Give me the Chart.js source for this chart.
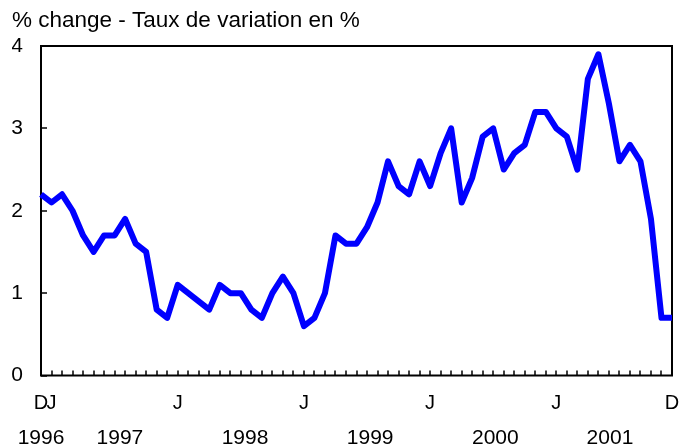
<!DOCTYPE html>
<html>
<head>
<meta charset="utf-8">
<script src="https://cdn.jsdelivr.net/npm/chart.js@4.4.1/dist/chart.umd.min.js"></script>
<style>
  html, body { margin: 0; padding: 0; background: #fff; }
  #wrap { width: 687px; height: 447px; }
</style>
</head>
<body>
<div id="wrap"><canvas id="chartCanvas"></canvas></div>
<script>
// monthly periods, Dec 1996 .. Dec 2001
const months = [];
for (let i = 0; i < 61; i++) {
  const m = (11 + i) % 12;
  const yr = 1996 + Math.floor((11 + i) / 12);
  months.push(yr + "-" + String(m + 1).padStart(2, "0"));
}

const values = [
  2.2, 2.1, 2.2, 2.0, 1.7, 1.5, 1.7, 1.7, 1.9, 1.6, 1.5, 0.8, 0.7,
  1.1, 1.0, 0.9, 0.8, 1.1, 1.0, 1.0, 0.8, 0.7, 1.0, 1.2, 1.0,
  0.6, 0.7, 1.0, 1.7, 1.6, 1.6, 1.8, 2.1, 2.6, 2.3, 2.2, 2.6,
  2.3, 2.7, 3.0, 2.1, 2.4, 2.9, 3.0, 2.5, 2.7, 2.8, 3.2, 3.2,
  3.0, 2.9, 2.5, 3.6, 3.9, 3.3, 2.6, 2.8, 2.6, 1.9, 0.7, 0.7
];

const yearLabels = ["1996", "1997", "1998", "1999", "2000", "2001"];
const yearTickAt = [0, 7.5, 19.4, 31.3, 43.2, 54.1]; // in month-index units

const titleText = "% change - Taux de variation en %";

Chart.defaults.color = "#000";
Chart.defaults.font.family = "'Liberation Sans', Arial, sans-serif";
Chart.defaults.font.size = 20;

// box round the plot and inward tick marks
const frame = {
  id: "frame",
  beforeDatasetsDraw(chart) {
    const { ctx, chartArea: a, scales: { x, y } } = chart;
    ctx.save();
    ctx.strokeStyle = "#000";
    ctx.lineWidth = 1.5;
    ctx.beginPath();
    x.ticks.forEach((t, i) => {
      const px = Math.round(x.getPixelForTick(i));
      ctx.moveTo(px, a.bottom);
      ctx.lineTo(px, a.bottom - 5);
    });
    y.ticks.forEach((t, i) => {
      const py = Math.round(y.getPixelForTick(i));
      ctx.moveTo(a.left, py);
      ctx.lineTo(a.left + 6, py);
    });
    ctx.stroke();
    ctx.lineWidth = 2;
    ctx.strokeRect(a.left, a.top, a.right - a.left, a.bottom - a.top);
    ctx.restore();
  }
};

const noSidePad = (s) => { s.paddingLeft = 0; s.paddingRight = 0; };

const ctx = document.getElementById("chartCanvas").getContext("2d");
const chart = new Chart(ctx, {
  type: "line",
  data: {
    labels: months,
    datasets: [
      {
        data: values,
        borderColor: "#0000ff",
        borderWidth: 6,
        borderJoinStyle: "round",
        pointRadius: 0,
        tension: 0,
        fill: false,
      },
    ],
  },
  options: {
    animation: false,
    responsive: true,
    maintainAspectRatio: false,
    layout: { padding: { left: 12, right: 15, top: 0, bottom: 0 } },
    plugins: {
      legend: { display: false },
      tooltip: { enabled: false },
      title: {
        display: true,
        text: titleText,
        align: "start",
        font: { size: 22.5, weight: "normal" },
        padding: { top: 7, bottom: 12 },
      },
    },
    scales: {
      x: {
        type: "category",
        position: "bottom",
        grid: { display: false, drawTicks: false },
        border: { display: false },
        ticks: {
          autoSkip: false,
          maxRotation: 0,
          padding: 16,
          callback: function (v, i) {
            if (i === 0 || i === months.length - 1) return "D";
            return months[i].endsWith("-01") ? "J" : "";
          },
        },
        afterFit: (s) => { s.height = 34; noSidePad(s); },
      },
      x2: {
        type: "linear",
        position: "bottom",
        min: 0,
        max: 60,
        grid: { display: false, drawTicks: false },
        border: { display: false },
        afterBuildTicks: (s) => { s.ticks = yearTickAt.map((v) => ({ value: v })); },
        ticks: {
          autoSkip: false,
          maxRotation: 0,
          padding: 16,
          font: { size: 21 },
          callback: (v, i) => yearLabels[i],
        },
        afterFit: (s) => { s.height = 37.5; noSidePad(s); },
      },
      y: {
        min: 0,
        max: 4,
        grid: { display: false, drawTicks: false },
        border: { display: false },
        ticks: { stepSize: 1, padding: 18, font: { size: 21 } },
        afterFit: (s) => { s.width = 29; },
      },
    },
  },
  plugins: [frame],
});
</script>
</body>
</html>
